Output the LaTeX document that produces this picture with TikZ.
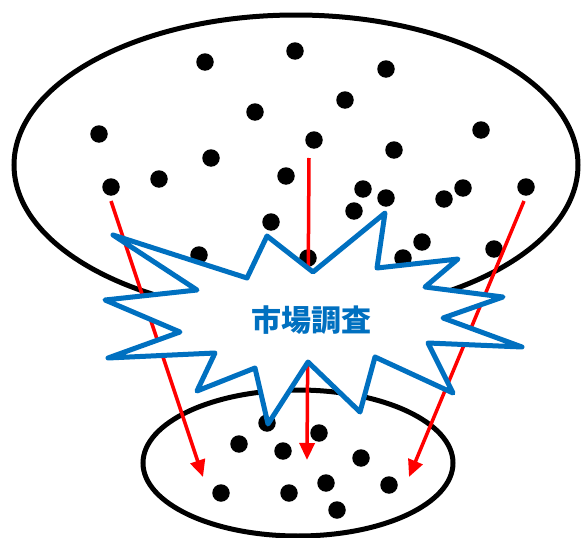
\documentclass[tikz,border=0pt]{standalone}
\usepackage{fontspec}
\newfontfamily\cjk{Noto Sans CJK JP}
\usetikzlibrary{arrows.meta}
\definecolor{burstblue}{RGB}{0,112,192}
\tikzset{
  dot/.style={circle,fill=black,inner sep=0pt,minimum size=17.5pt},
  pick/.style={draw=red,line width=3.5pt,-{Triangle[length=17pt,width=15pt]}},
  burst/.style={draw=burstblue,fill=white,line width=5pt,line join=round},
  label/.style={text=burstblue,font=\cjk\bfseries\fontsize{30pt}{30pt}\selectfont}
}
\begin{document}
\begin{tikzpicture}[x=1pt,y=-1pt]
\useasboundingbox (0,0) rectangle (582,538);
% population
\draw[line width=5pt] (296,165) ellipse [x radius=282, y radius=150];
\foreach \n/\p in {a1/{205,62},a2/{295,51},a3/{386,69},a4/{255,112},a5/{345,100},
  a6/{99,134},a7/{314,140},a8/{394,150},a9/{481,130},a10/{211,158},a11/{159,179},
  a12/{286,176},a13/{111,187},a14/{363,189},a15/{386,198},a16/{354,211},a17/{463,188},
  a18/{444,199},a19/{526,187},a20/{271,222},a21/{422,242},a22/{494,249},a23/{199,255},
  a24/{308,258},a25/{403,258}}
  \node[dot] (\n) at (\p) {};
% sample
\draw[line width=5pt] (298,463) ellipse [x radius=155, y radius=73];
\foreach \n/\p in {b1/{267,423},b2/{239,444},b3/{283,451},b4/{319,433},b5/{361,458},
  b6/{221,493},b7/{289,493},b8/{326,483},b9/{389,485},b10/{337,510}}
  \node[dot] (\n) at (\p) {};
% arrows
\coordinate (s1) at (111,201);
\coordinate (e1) at (203,477);
\coordinate (s2) at (309,158);
\coordinate (e2) at (307,460);
\coordinate (s3) at (524,201);
\coordinate (e3) at (409,477);
\draw[pick] (s1) -- (e1);
\draw[pick] (s2) -- (e2);
\draw[pick] (s3) -- (e3);
% starburst
\draw[burst] (113,235) -- (247,278) -- (267,236) -- (313,272) -- (385,213) -- (377,268)
  -- (458,259) -- (425,287) -- (503,297) -- (443,318) -- (522,347) -- (428,343)
  -- (453,393) -- (375,357) -- (360,412) -- (308,362) -- (268,424) -- (255,368)
  -- (197,391) -- (215,353) -- (108,358) -- (180,332) -- (105,300) -- (197,290) -- cycle;
\node[label] (t) at (311,320) {市場調査};
\end{tikzpicture}
\end{document}
